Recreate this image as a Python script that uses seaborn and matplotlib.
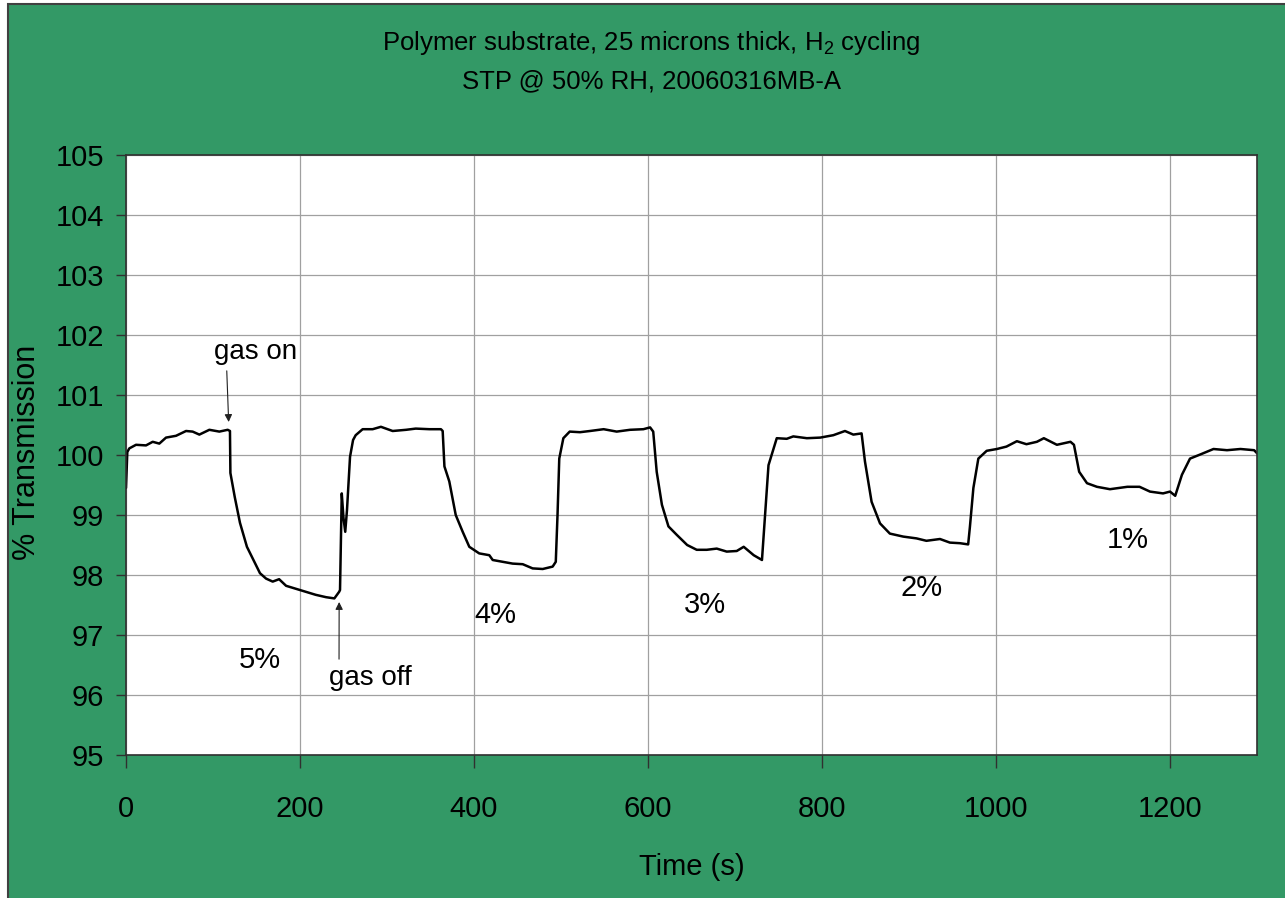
import matplotlib
matplotlib.use('Agg')
import pandas as pd
import matplotlib.pyplot as plt
from matplotlib.patches import Rectangle
import seaborn as sns

# values
time_s = [0, 1.5, 3.8, 11.5, 23, 30.7, 38.3, 46, 57.5, 69, 76.6, 84.3, 95.8,
          107.3, 116.9, 119.5, 120, 125, 131, 139, 154, 161, 168.6, 176, 184,
          195.4, 207, 218, 230, 239.5, 245, 246, 248, 250, 252, 254, 257.5,
          261, 264, 272, 283.5, 293, 306.5, 322, 333, 348.7, 362, 364, 366,
          371.6, 379, 387, 394.6, 406, 417.6, 421.5, 433, 444.4, 456, 467.4,
          479, 490.4, 494, 496, 498, 502.7, 510, 521.8, 533.3, 549, 564, 579.4,
          594.7, 602.4, 606, 610, 616, 623.5, 633, 645, 656, 667.5, 679, 690.5,
          702, 710, 721.5, 731, 734.5, 738.5, 748, 759.5, 767, 782.6, 798, 813,
          826.4, 836, 845.5, 849.4, 857, 866.7, 878, 893.4, 908.7, 920, 935.6,
          947, 958.6, 968, 970, 974, 979.7, 989.3, 1001, 1012, 1024, 1035,
          1047, 1055, 1070, 1085.6, 1089.6, 1095.6, 1104.6, 1116, 1131, 1151,
          1165, 1177, 1192, 1200, 1206, 1213.7, 1223, 1235, 1250, 1265.5, 1281,
          1296.7, 1300]
transmission = [99.45, 100.05, 100.11, 100.17, 100.16, 100.22, 100.19, 100.29,
                100.32, 100.40, 100.39, 100.34, 100.42, 100.39, 100.42, 100.40,
                99.70, 99.30, 98.87, 98.47, 98.03, 97.94, 97.89, 97.93, 97.82,
                97.77, 97.72, 97.67, 97.63, 97.61, 97.72, 97.75, 99.36, 98.95,
                98.72, 99.08, 99.97, 100.25, 100.33, 100.43, 100.43, 100.47,
                100.40, 100.42, 100.44, 100.43, 100.43, 100.40, 99.81, 99.56,
                99.00, 98.72, 98.47, 98.36, 98.33, 98.25, 98.22, 98.19, 98.18,
                98.11, 98.10, 98.14, 98.22, 99.00, 99.94, 100.28, 100.39, 100.38,
                100.40, 100.43, 100.39, 100.42, 100.43, 100.46, 100.39, 99.72,
                99.17, 98.81, 98.67, 98.50, 98.42, 98.42, 98.44, 98.39, 98.40,
                98.47, 98.33, 98.25, 99.00, 99.83, 100.28, 100.27, 100.31,
                100.28, 100.29, 100.33, 100.40, 100.34, 100.36, 99.89, 99.22,
                98.86, 98.69, 98.64, 98.61, 98.57, 98.60, 98.54, 98.53, 98.51,
                98.80, 99.45, 99.94, 100.07, 100.10, 100.14, 100.23, 100.18,
                100.22, 100.28, 100.17, 100.22, 100.17, 99.72, 99.53, 99.47,
                99.43, 99.47, 99.47, 99.39, 99.36, 99.39, 99.32, 99.67, 99.94,
                100.01, 100.10, 100.08, 100.10, 100.08, 100.03]

step_labels = ['5%', '4%', '3%', '2%', '1%']
step_times = [154, 425, 665, 915, 1152]
step_levels = [96.58, 97.33, 97.50, 97.78, 98.58]

x_ticks = [0, 200, 400, 600, 800, 1000, 1200]
y_ticks = [95, 96, 97, 98, 99, 100, 101, 102, 103, 104, 105]

GREEN = '#339966'

sns.set_style('whitegrid')
plt.rcParams['font.family'] = ['Liberation Sans', 'DejaVu Sans']
plt.rcParams['text.color'] = 'black'
plt.rcParams['xtick.color'] = 'black'
plt.rcParams['ytick.color'] = 'black'
plt.rcParams['axes.labelcolor'] = 'black'
plt.rcParams['mathtext.fontset'] = 'custom'
plt.rcParams['mathtext.rm'] = 'Liberation Sans'

df = pd.DataFrame({'Time (s)': time_s, '% Transmission': transmission})

fig = plt.figure(figsize=(12.85, 8.98), dpi=100)
fig.patch.set_facecolor('white')
fig.patches.append(Rectangle((8 / 1285, -0.02), 1.02, 1.02 - 4 / 898,
                             transform=fig.transFigure, facecolor=GREEN,
                             edgecolor='#404040', linewidth=1.5, zorder=-5))

ax = fig.add_axes([126 / 1285, 1 - 755 / 898, 1131 / 1285, 600 / 898])
ax.set_facecolor('white')

sns.lineplot(data=df, x='Time (s)', y='% Transmission', ax=ax, color='black',
             linewidth=1.8, estimator=None, sort=False)

ax.set_xlim(0, 1300)
ax.set_ylim(95, 105)
ax.set_xticks(x_ticks)
ax.set_yticks(y_ticks)
ax.grid(True, color='#a0a0a0', linewidth=0.9)
for side in ['left', 'right', 'top', 'bottom']:
    ax.spines[side].set_visible(True)
    ax.spines[side].set_color('#303030')
    ax.spines[side].set_linewidth(1.2)

ax.tick_params(axis='y', direction='out', length=7, width=1, color='#303030',
               pad=9, labelsize=21, left=True)
ax.tick_params(axis='x', direction='out', length=9, width=1, color='#303030',
               pad=20, labelsize=21, bottom=True)

ax.set_xlabel('Time (s)', fontsize=21)
ax.xaxis.set_label_coords(0.5, -0.163)
ax.set_ylabel('% Transmission', fontsize=22)
ax.yaxis.set_label_coords(-0.074, 0.505)

# title lines
fig.text(0.507, 0.952, r'Polymer substrate, 25 microns thick, H$_\mathregular{2}$ cycling',
         ha='center', va='center', fontsize=18.5)
fig.text(0.507, 0.910, 'STP @ 50% RH, 20060316MB-A',
         ha='center', va='center', fontsize=18.5)

# gas on / gas off markers
ax.annotate('gas on', xy=(118, 100.55), xytext=(149, 101.72), ha='center',
            va='center', fontsize=20,
            arrowprops=dict(arrowstyle='-|>', color='#202020', lw=0.8,
                            mutation_scale=11, relpos=(0.15, 0),
                            shrinkA=2, shrinkB=0))
ax.annotate('gas off', xy=(245, 97.55), xytext=(281, 96.28), ha='center',
            va='center', fontsize=20,
            arrowprops=dict(arrowstyle='-|>', color='#202020', lw=0.8,
                            mutation_scale=11, relpos=(0.12, 1),
                            shrinkA=2, shrinkB=0))

for lab, t, lev in zip(step_labels, step_times, step_levels):
    ax.text(t, lev, lab, ha='center', va='center', fontsize=21)

fig.savefig('out.png', dpi=100, facecolor=fig.get_facecolor())
